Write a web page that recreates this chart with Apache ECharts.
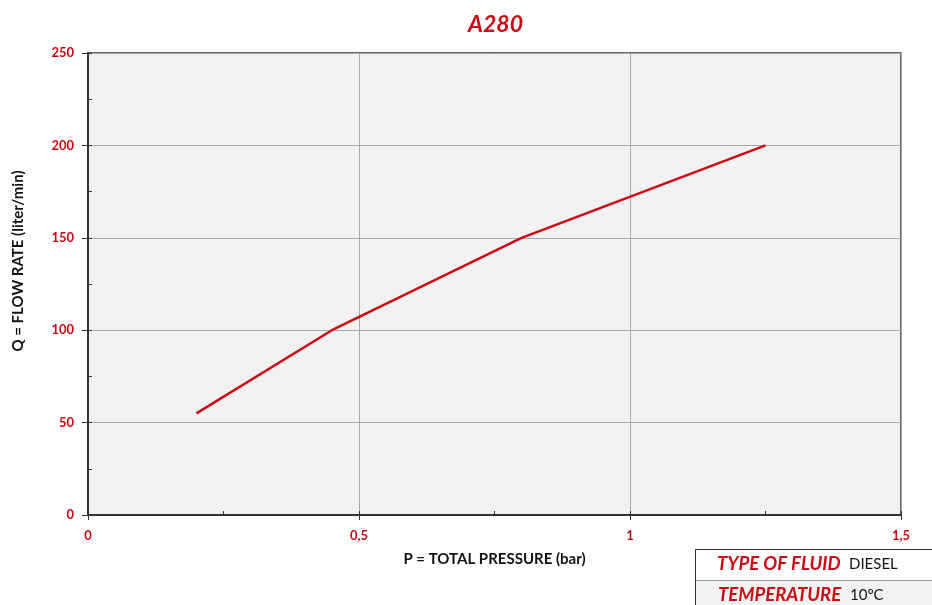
<!DOCTYPE html>
<html>
<head>
<meta charset="utf-8">
<script src="https://cdn.jsdelivr.net/npm/echarts@6/dist/echarts.min.js"></script>
<style>
html,body{margin:0;padding:0;background:#fff;}
#c{width:932px;height:605px;}
</style>
</head>
<body>
<div id="c"></div>
<script>
const titleText = 'A280';
const pressure = [0.2, 0.45, 0.8, 1.25];
const flowRate = [55, 100, 150, 200];
const xTickLabels = ['0', '0,5', '1', '1,5'];
const xName = 'P = TOTAL PRESSURE (bar)';
const yName = 'Q = FLOW RATE (liter/min)';
const tableRows = [['TYPE OF FLUID', 'DIESEL'], ['TEMPERATURE', '10°C']];

const RED = '#cc0a14';
const FONT = 'Lato, "Open Sans", sans-serif';
const chart = echarts.init(document.getElementById('c'), null, {renderer: 'canvas'});

const L = 88, R = 901, T = 53, B = 515;

chart.setOption({
  animation: false,
  backgroundColor: '#ffffff',
  title: {
    text: titleText, left: 463, top: 8,
    textStyle: {color: RED, fontSize: 23, fontWeight: 'bold', fontStyle: 'italic', fontFamily: FONT}
  },
  grid: {
    left: L, right: 932 - R, top: T, bottom: 605 - B,
    show: true, backgroundColor: '#f2f2f2', borderColor: '#333', borderWidth: 1.5
  },
  xAxis: [{
    type: 'value', min: 0, max: 1.5, interval: 0.5,
    axisLine: {show: true, onZero: false, lineStyle: {color: '#333', width: 2}},
    axisTick: {show: true, length: 5, lineStyle: {color: '#333'}},
    axisLabel: {
      color: RED, fontSize: 13, fontWeight: 'bold', fontFamily: FONT, margin: 14,
      formatter: function (v) { return xTickLabels[Math.round(v / 0.5)]; }
    },
    splitLine: {show: true, lineStyle: {color: '#a8a8a8', width: 1}},
    name: xName, nameLocation: 'middle', nameGap: 37,
    nameTextStyle: {color: '#111', fontSize: 15, fontWeight: 'bold', fontFamily: FONT}
  }, {
    type: 'value', min: 0, max: 1.5, interval: 0.25, position: 'bottom',
    axisLine: {show: false}, axisLabel: {show: false}, splitLine: {show: false},
    axisTick: {show: true, inside: true, length: 4, lineStyle: {color: '#333'}}
  }],
  yAxis: [{
    type: 'value', min: 0, max: 250, interval: 50,
    axisLine: {show: true, onZero: false, lineStyle: {color: '#333', width: 2}},
    axisTick: {show: true, length: 6, lineStyle: {color: '#333'}},
    axisLabel: {color: RED, fontSize: 13, fontWeight: 'bold', fontFamily: FONT, margin: 14},
    splitLine: {show: true, lineStyle: {color: '#a8a8a8', width: 1}}
  }, {
    type: 'value', min: 0, max: 250, interval: 25, position: 'left',
    axisLine: {show: false}, axisLabel: {show: false}, splitLine: {show: false},
    axisTick: {show: true, inside: true, length: 4, lineStyle: {color: '#333'}}
  }],
  series: [{
    type: 'line',
    data: pressure.map((p, i) => [p, flowRate[i]]),
    showSymbol: false, symbol: 'none',
    lineStyle: {color: RED, width: 2.5},
    itemStyle: {color: RED}
  }],
  graphic: [
    {type: 'text', x: 18, y: 261, rotation: Math.PI / 2,
     style: {text: yName, fill: '#111', font: 'bold 15px ' + FONT, align: 'center', verticalAlign: 'middle'}},
    {type: 'rect', shape: {x: 695.5, y: 549.5, width: 240, height: 31}, style: {fill: '#fff', stroke: '#333', lineWidth: 1}},
    {type: 'rect', shape: {x: 695.5, y: 580.5, width: 240, height: 30}, style: {fill: '#f2f2f2', stroke: '#999', lineWidth: 1}},
    {type: 'line', shape: {x1: 695.5, y1: 549.5, x2: 695.5, y2: 605}, style: {stroke: '#333', lineWidth: 1}},
    {type: 'text', left: 717, top: 555, style: {text: tableRows[0][0], fill: RED, font: 'italic bold 18.5px ' + FONT}},
    {type: 'text', left: 849, top: 557, style: {text: tableRows[0][1], fill: '#111', font: '15px ' + FONT}},
    {type: 'text', left: 718, top: 586, style: {text: tableRows[1][0], fill: RED, font: 'italic bold 18.5px ' + FONT}},
    {type: 'text', left: 850, top: 588, style: {text: tableRows[1][1], fill: '#111', font: '15px ' + FONT}}
  ]
});
</script>
</body>
</html>
